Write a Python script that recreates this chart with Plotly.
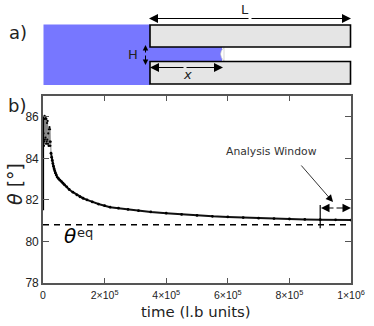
import plotly.graph_objects as go

W, H = 374, 326

# Contact angle history: initial jump at t = 0
spike_time = [0, 0]
spike_theta = [81.5, 86.0]
# Contact angle history: early noisy stage
early_time = [1200, 1500, 2000, 2500, 3000, 3500, 4000, 5000, 6000, 7000, 8000, 9000, 10000,
              11000, 12000, 13000, 14000, 15000, 16000, 17000, 18000, 19000, 20000, 21000, 22000, 23000,
              24000, 25000, 26000]
early_theta = [84.6, 85.2, 84.7, 85.9, 84.6, 85.9, 84.8, 86.05, 84.9, 85.9, 85.0,
               86.0, 84.7, 85.9, 84.8, 85.7, 84.9, 85.8, 84.7, 85.2, 84.6, 85.4, 84.6, 85.5,
               84.8, 85.4, 84.6, 84.8, 84.25]
# Contact angle history: slow relaxation
late_time = [26000, 28000, 30000, 32000, 34000, 36000, 38000, 40000, 43000, 46000, 50000, 55000, 60000, 65000,
             70000, 77000, 85000, 97000, 110000, 120000, 130000, 143000, 160000, 180000, 200000, 218000, 245000,
             276000, 310000, 350000, 400000, 450000, 500000, 550000, 600000, 650000, 700000, 750000, 800000,
             850000, 900000, 950000, 1000000]
late_theta = [84.25, 84.05, 83.9, 83.75, 83.62, 83.5, 83.4, 83.3, 83.2, 83.1, 83.03, 82.95, 82.88, 82.8,
              82.72, 82.63, 82.5, 82.37, 82.24, 82.15, 82.08, 82.0, 81.9, 81.8, 81.72, 81.65, 81.6,
              81.54, 81.48, 81.42, 81.36, 81.3, 81.25, 81.21, 81.18, 81.15, 81.12, 81.1, 81.08,
              81.06, 81.05, 81.04, 81.03]
theta_eq = 80.8
window_start = 900000
x_ticks = [0, 200000, 400000, 600000, 800000, 1000000]
x_labels = ["0", "2×10<sup>5</sup>", "4×10<sup>5</sup>", "6×10<sup>5</sup>", "8×10<sup>5</sup>", "1×10<sup>6</sup>"]
y_ticks = [78, 80, 82, 84, 86]

DARK = "#222222"
AXIS = "#555555"
BLUE = "#7777ff"
GREY = "#e5e5e5"

PL, PR, PT, PB = 43, 351, 96, 283

fig = go.Figure()

# main chart
fig.add_trace(go.Scatter(x=early_time, y=early_theta, mode="lines+markers",
                         line=dict(color="#888888", width=1),
                         marker=dict(color="black", size=2.2),
                         showlegend=False, hoverinfo="skip", xaxis="x", yaxis="y", cliponaxis=False))
fig.add_trace(go.Scatter(x=spike_time, y=spike_theta, mode="lines",
                         line=dict(color="black", width=2.2),
                         showlegend=False, hoverinfo="skip", xaxis="x", yaxis="y", cliponaxis=False))
fig.add_trace(go.Scatter(x=late_time, y=late_theta, mode="lines+markers",
                         line=dict(color="#111111", width=2),
                         marker=dict(color="black", size=2.8),
                         showlegend=False, hoverinfo="skip", xaxis="x", yaxis="y", cliponaxis=False))
fig.add_trace(go.Scatter(x=[0, 1000000], y=[theta_eq, theta_eq], mode="lines",
                         line=dict(color="black", width=1.4, dash="6px,5px"),
                         showlegend=False, hoverinfo="skip", xaxis="x", yaxis="y"))
fig.add_trace(go.Scatter(x=[window_start, window_start], y=[80.64, 81.75], mode="lines",
                         line=dict(color="black", width=1.2),
                         showlegend=False, hoverinfo="skip", xaxis="x", yaxis="y"))

shapes = []
annos = []

def rect(x0, y0, x1, y1, fill, lw=0, col="black"):
    shapes.append(dict(type="rect", xref="x2", yref="y2", x0=x0, y0=y0, x1=x1, y1=y1,
                       fillcolor=fill, line=dict(color=col, width=lw), layer="above"))

def arrow(x0, y0, x1, y1, size=1.0, lw=1):
    annos.append(dict(xref="x2", yref="y2", axref="x2", ayref="y2", x=x1, y=y1, ax=x0, ay=y0,
                      text="", showarrow=True, arrowhead=2, arrowsize=size, arrowwidth=lw,
                      arrowcolor="black"))

def label(x, y, s, size, col=DARK, family="DejaVu Sans", italic=False, xanchor="center"):
    annos.append(dict(xref="x2", yref="y2", x=x, y=y, text=f"<i>{s}</i>" if italic else s, showarrow=False,
                      font=dict(size=size, color=col, family=family), xanchor=xanchor, yanchor="middle"))

# schematic panel a)
rect(43.5, 24.5, 150, 85, BLUE)
rect(150, 47, 222, 61.5, BLUE)
shapes.append(dict(type="path", xref="x2", yref="y2",
                   path="M 224 47.5 Q 217 54 224 61 L 224 47.5 Z",
                   fillcolor="white", line=dict(color="#bbbbbb", width=0.6), layer="above"))
rect(150, 25, 350.5, 47, GREY, 1.6)
rect(150, 61.5, 350.5, 84, GREY, 1.6)

arrow(250, 18.5, 149, 18.5, 1.8, 1)
arrow(250, 18.5, 351, 18.5, 1.8, 1)
arrow(145.5, 54, 145.5, 45, 1.1, 1)
arrow(145.5, 54, 145.5, 65, 1.1, 1)
arrow(185, 67.5, 150, 67.5, 1.8, 1)
arrow(185, 67.5, 223, 67.5, 1.8, 1)
label(245, 9.5, "L", 13)
label(132.5, 54.5, "H", 13)
label(187, 74, "x", 13, italic=True)
label(18, 32, "a)", 18)
label(17, 105, "b)", 18)

# annotations for panel b)
label(271, 151, "Analysis Window", 10.8, col="#333333")
arrow(300, 164, 333, 202, 1.8, 0.8)
arrow(335, 208, 321, 208, 1.7, 1)
arrow(335, 208, 351, 208, 1.7, 1)
annos.append(dict(xref="x2", yref="y2", x=62, y=236, text="<i>θ</i>", showarrow=False,
                  font=dict(size=20, color="black", family="DejaVu Sans"), xanchor="left", yanchor="middle"))
label(75, 232, "eq", 13, col="#222222", xanchor="left")
label(195.5, 312, "time (l.b units)", 14.9, col=DARK)
annos.append(dict(xref="x2", yref="y2", x=15, y=184, text="<i>θ</i> [°]", showarrow=False, textangle=-90,
                  font=dict(size=19, color=DARK, family="DejaVu Sans"), xanchor="center", yanchor="middle"))

fig.update_layout(
    width=W, height=H, autosize=False,
    margin=dict(l=0, r=0, t=0, b=0),
    paper_bgcolor="white", plot_bgcolor="rgba(0,0,0,0)",
    showlegend=False, shapes=shapes, annotations=annos,
    font=dict(family="Liberation Sans", size=10.5, color=DARK),
    xaxis=dict(domain=[PL / W, PR / W], range=[0, 1000000], anchor="y",
               tickmode="array", tickvals=x_ticks, ticktext=x_labels,
               ticks="inside", ticklen=5, tickcolor=AXIS, showgrid=False, zeroline=False,
               showline=True, mirror="ticks", linecolor=AXIS, linewidth=1.6,
               tickfont=dict(size=10.5), ticklabelstandoff=2, automargin=False),
    yaxis=dict(domain=[1 - PB / H, 1 - PT / H], range=[78, 87], anchor="x",
               tickmode="array", tickvals=y_ticks,
               ticks="inside", ticklen=6, tickcolor=AXIS, showgrid=False, zeroline=False,
               showline=True, mirror="ticks", linecolor=AXIS, linewidth=1.6,
               tickfont=dict(size=12), automargin=False),
    xaxis2=dict(domain=[0, 1], range=[0, W], anchor="y2", visible=False, fixedrange=True),
    yaxis2=dict(domain=[0, 1], range=[H, 0], anchor="x2", visible=False, fixedrange=True),
)
# keep secondary axes active so shapes and annotations resolve
fig.add_trace(go.Scatter(x=[0, W], y=[0, H], mode="markers", marker=dict(opacity=0, size=1),
                         showlegend=False, hoverinfo="skip", xaxis="x2", yaxis="y2"))

fig.write_html("out.html", config=dict(displayModeBar=False),
               post_script="document.body.style.margin='0';document.documentElement.style.overflow='hidden';")
